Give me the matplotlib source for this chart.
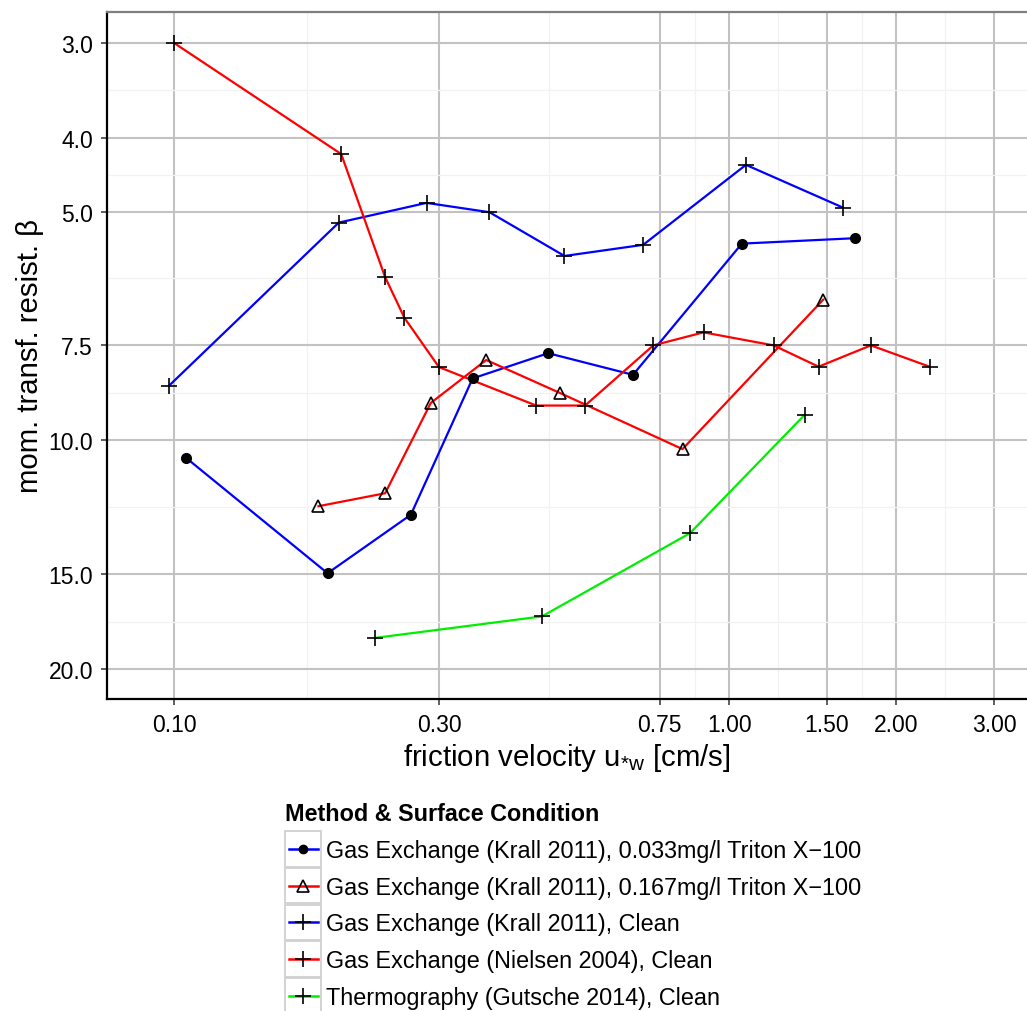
import numpy as np
import matplotlib.pyplot as plt
from matplotlib.patches import Rectangle
from matplotlib.ticker import FixedLocator, NullFormatter

plt.rcParams['font.family'] = ['Liberation Sans', 'DejaVu Sans']
plt.rcParams['mathtext.fontset'] = 'custom'
plt.rcParams['mathtext.rm'] = 'Liberation Sans'
plt.rcParams['mathtext.it'] = 'Liberation Sans:italic'

# friction velocity u*w [cm/s] and momentum transfer resistance beta per data set
krall_t033_u = [0.105, 0.189, 0.267, 0.345, 0.472, 0.671, 1.054, 1.687]
krall_t033_beta = [10.54, 14.96, 12.53, 8.29, 7.68, 8.20, 5.51, 5.42]

krall_t167_u = [0.182, 0.240, 0.290, 0.365, 0.495, 0.824, 1.477]
krall_t167_beta = [12.21, 11.74, 8.93, 7.84, 8.66, 10.27, 6.53]

krall_clean_u = [0.098, 0.198, 0.285, 0.370, 0.505, 0.700, 1.072, 1.603]
krall_clean_beta = [8.47, 5.17, 4.87, 5.01, 5.72, 5.53, 4.34, 4.94]

nielsen_u = [0.100, 0.200, 0.240, 0.260, 0.300, 0.449, 0.550, 0.730, 0.899,
             1.202, 1.449, 1.800, 2.296]
nielsen_beta = [3.00, 4.20, 6.10, 6.90, 8.01, 9.00, 9.00, 7.50, 7.21,
                7.50, 8.00, 7.50, 8.00]

gutsche_u = [0.230, 0.460, 0.850, 1.367]
gutsche_beta = [18.2, 17.05, 13.25, 9.26]

labels = [
    'Gas Exchange (Krall 2011), 0.033mg/l Triton X\u2212100',
    'Gas Exchange (Krall 2011), 0.167mg/l Triton X\u2212100',
    'Gas Exchange (Krall 2011), Clean',
    'Gas Exchange (Nielsen 2004), Clean',
    'Thermography (Gutsche 2014), Clean',
]

x_breaks = [0.10, 0.30, 0.75, 1.00, 1.50, 2.00, 3.00]
y_breaks = [3.0, 4.0, 5.0, 7.5, 10.0, 15.0, 20.0]

series = [
    (krall_t033_u, krall_t033_beta, '#0000FF', dict(marker='o', ms=7, mfc='black', mec='black')),
    (krall_t167_u, krall_t167_beta, '#FF0000', dict(marker='^', ms=9, mfc='none', mec='black', mew=1.2)),
    (krall_clean_u, krall_clean_beta, '#0000FF', dict(marker='+', ms=12, mec='black', mew=1.2)),
    (nielsen_u, nielsen_beta, '#FF0000', dict(marker='+', ms=12, mec='black', mew=1.2)),
    (gutsche_u, gutsche_beta, '#00EE00', dict(marker='+', ms=12, mec='black', mew=1.2)),
]

W, H = 1027, 1012
fig = plt.figure(figsize=(W / 100, H / 100), dpi=100)
ax = fig.add_axes([107 / W, 312 / H, 920 / W, 687 / H])

# lines first, points on top of all lines
for u, beta, col, mk in series:
    ax.plot(u, beta, color=col, lw=1.6, zorder=2)
for u, beta, col, mk in series:
    ax.plot(u, beta, ls='none', zorder=3, **mk)

ax.set_xscale('log')
ax.set_yscale('log')
ax.set_xlim(0.0757, 3.44)
ax.set_ylim(21.9, 2.731)

ax.xaxis.set_major_locator(FixedLocator(x_breaks))
ax.set_xticklabels([f'{v:.2f}' for v in x_breaks])
ax.xaxis.set_minor_locator(FixedLocator(np.sqrt(np.multiply(x_breaks[:-1], x_breaks[1:]))))
ax.xaxis.set_minor_formatter(NullFormatter())
ax.yaxis.set_major_locator(FixedLocator(y_breaks))
ax.set_yticklabels([f'{v:.1f}' for v in y_breaks])
ax.yaxis.set_minor_locator(FixedLocator(np.sqrt(np.multiply(y_breaks[:-1], y_breaks[1:]))))
ax.yaxis.set_minor_formatter(NullFormatter())

ax.grid(which='major', color='#C2C2C2', lw=1.5)
ax.grid(which='minor', color='#F2F2F2', lw=0.9)
ax.set_axisbelow(True)

ax.tick_params(which='major', direction='out', length=4, width=1.1, color='#333333',
               labelsize=16.5, labelcolor='black', pad=6)
ax.tick_params(which='minor', length=0)

for s in ('left', 'bottom'):
    ax.spines[s].set_linewidth(1.6)
    ax.spines[s].set_color('black')
ax.spines['top'].set_color('#7F7F7F')
ax.spines['top'].set_linewidth(1.6)
ax.spines['right'].set_visible(False)

ax.set_xlabel(r'friction velocity u$_{\mathrm{*w}}$ [cm/s]', fontsize=21.2, labelpad=4)
ax.set_ylabel('mom. transf. resist. \u03b2', fontsize=21.2, labelpad=3)

# legend below the panel, drawn on an overlay in pixel units
lax = fig.add_axes([0, 0, 1, 1], facecolor='none')
lax.set_xlim(0, W)
lax.set_ylim(H, 0)
lax.axis('off')

lax.text(285, 821.5, 'Method & Surface Condition', fontsize=16.8, fontweight='bold',
         ha='left', va='baseline')
key_x, key_w, key_h, pitch = 284.5, 36.5, 35.5, 36.7
for i, (lab, (u, beta, col, mk)) in enumerate(zip(labels, series)):
    yc = 850 + i * pitch
    lax.add_patch(Rectangle((key_x, yc - key_h / 2), key_w, key_h, facecolor='white',
                            edgecolor='#D0D0D0', lw=1.3, clip_on=False))
    lax.plot([key_x + 4, key_x + key_w - 3.5], [yc, yc], color=col, lw=1.8, clip_on=False)
    key_mk = dict(mk)
    if key_mk['marker'] == 'o':
        key_mk['ms'] = 6
    lax.plot([key_x + key_w / 2], [yc], ls='none', clip_on=False, **key_mk)
    lax.text(325.5, yc + 8, lab, fontsize=16.8, ha='left', va='baseline')

fig.savefig('out.png', dpi=100)
